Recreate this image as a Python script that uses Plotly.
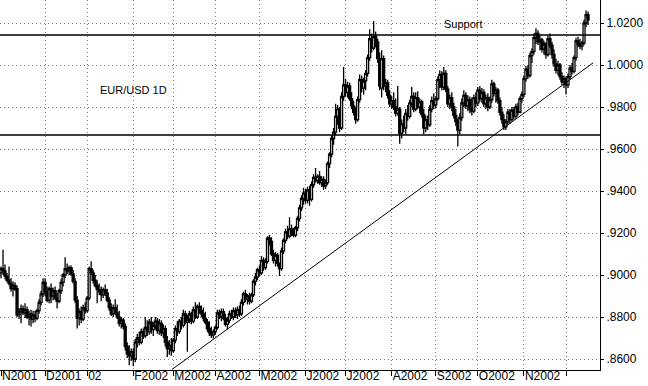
import plotly.graph_objects as go
import pandas as pd

# Daily EUR/USD candles, first trading day 2001-11-01 (weekdays only)
opens = [
 .9010,.9030,.9020,.8995,.8975,.8960,.8935,.8950,.8935,.8810,.8825,.8840,.8820,.8835,.8800,.8815,.8790,.8810,.8795,.8830,.8870,.8910,
 .8965,.8920,.8880,.8935,.8900,.8925,.8890,.8875,.8925,.8965,.9000,.9030,.9020,.9035,.9005,.8970,.8880,.8795,.8825,.8790,.8845,
 .8830,.8890,.9030,.9010,.8975,.8950,.8930,.8920,.8905,.8930,.8915,.8880,.8845,.8815,.8845,.8820,.8800,.8770,.8785,.8755,.8660,.8625,.8615,
 .8635,.8600,.8680,.8700,.8680,.8730,.8710,.8750,.8730,.8775,.8740,.8760,.8780,.8735,.8770,.8725,.8745,.8680,.8650,.8665,
 .8640,.8690,.8745,.8730,.8780,.8760,.8815,.8775,.8790,.8815,.8780,.8835,.8800,.8850,.8830,.8815,.8795,.8775,.8745,.8725,.8715,
 .8730,.8750,.8820,.8800,.8825,.8795,.8765,.8785,.8815,.8800,.8830,.8810,.8835,.8815,.8870,.8910,.8885,.8900,.8875,.8905,.8970,.8990,
 .9025,.9010,.9070,.9035,.9065,.9175,.9160,.9100,.9070,.9095,.9055,.9030,.9115,.9165,.9205,.9185,.9220,.9200,.9190,.9225,.9270,.9320,.9365,
 .9390,.9355,.9405,.9360,.9430,.9465,.9450,.9470,.9440,.9455,.9425,.9440,.9530,.9575,.9650,.9680,.9755,.9790,.9700,.9850,
 .9905,.9870,.9900,.9840,.9805,.9775,.9740,.9835,.9930,.9890,.9925,.9960,1.0035,1.0125,1.0080,1.0135,1.0110,1.0030,.9890,1.0030,.9900,.9915,.9855,
 .9815,.9830,.9800,.9770,.9790,.9675,.9720,.9700,.9770,.9755,.9820,.9850,.9790,.9845,.9800,.9825,.9765,.9700,.9740,.9715,.9790,.9830,
 .9810,.9840,.9930,.9955,.9895,.9960,.9885,.9815,.9845,.9800,.9760,.9730,.9690,.9750,.9820,.9855,.9805,.9835,.9790,.9780,.9845,
 .9820,.9880,.9840,.9870,.9815,.9845,.9800,.9835,.9910,.9865,.9880,.9830,.9775,.9740,.9705,.9730,.9775,.9740,.9785,.9755,.9800,.9775,.9840,
 .9860,.9935,.9980,.9950,1.0045,1.0065,1.0130,1.0150,1.0110,1.0120,1.0075,1.0100,1.0050,1.0125,1.0095,1.0050,1.0005,.9975,1.0000,.9945,.9920,
 .9935,.9905,.9945,.9985,.9970,1.0035,1.0115,1.0100,1.0090,1.0105,1.0200,1.0240,
]
highs = [
 .9040,.9120,.9050,.9010,.9040,.8985,.8970,.8965,.8950,.8840,.8860,.8855,.8865,.8850,.8830,.8835,.8830,.8830,.8840,.8885,.8925,.8985,
 .8985,.8945,.8945,.8960,.8940,.8945,.8915,.8935,.8980,.9010,.9085,.9055,.9045,.9045,.9025,.8985,.8900,.8840,.8850,.8860,.8870,
 .8900,.9040,.9065,.9025,.9000,.8975,.8960,.8945,.8940,.8955,.8935,.8895,.8865,.8860,.8885,.8860,.8830,.8800,.8795,.8770,.8680,.8665,.8650,
 .8650,.8695,.8720,.8730,.8745,.8745,.8800,.8785,.8790,.8800,.8775,.8800,.8795,.8790,.8785,.8765,.8760,.8710,.8690,.8700,
 .8700,.8760,.8780,.8790,.8800,.8835,.8830,.8810,.8830,.8825,.8850,.8870,.8860,.8870,.8855,.8845,.8825,.8790,.8780,.8755,.8740,
 .8760,.8835,.8835,.8840,.8840,.8815,.8800,.8830,.8835,.8845,.8845,.8850,.8855,.8885,.8920,.8930,.8910,.8915,.8915,.8980,.9010,.9035,
 .9045,.9090,.9085,.9080,.9185,.9190,.9180,.9120,.9110,.9105,.9060,.9130,.9175,.9220,.9235,.9275,.9240,.9225,.9235,.9280,.9335,.9380,.9415,
 .9410,.9420,.9425,.9445,.9480,.9510,.9480,.9495,.9470,.9470,.9455,.9540,.9585,.9665,.9700,.9815,.9810,.9800,.9870,.9990,
 .9935,.9920,.9915,.9870,.9830,.9800,.9850,.9955,.9950,.9940,.9975,1.0050,1.0170,1.0150,1.0210,1.0160,1.0125,1.0060,1.0070,1.0045,.9935,.9930,.9880,
 .9850,.9870,.9840,.9900,.9800,.9740,.9760,.9790,.9810,.9835,.9895,.9870,.9870,.9875,.9840,.9835,.9790,.9760,.9760,.9810,.9850,.9865,
 .9850,.9945,.9975,.9970,.9990,.9975,.9900,.9860,.9870,.9820,.9790,.9745,.9770,.9840,.9880,.9870,.9855,.9850,.9845,.9860,.9870,
 .9895,.9900,.9890,.9885,.9860,.9865,.9850,.9930,.9920,.9895,.9890,.9845,.9800,.9765,.9740,.9790,.9790,.9800,.9800,.9815,.9820,.9850,.9875,
 .9950,.9995,1.0000,1.0060,1.0080,1.0150,1.0175,1.0165,1.0140,1.0130,1.0115,1.0110,1.0140,1.0150,1.0110,1.0075,1.0030,1.0020,1.0010,.9965,.9950,
 .9945,.9960,1.0000,1.0010,1.0045,1.0130,1.0135,1.0125,1.0115,1.0215,1.0260,1.0255,
]
lows = [
 .8985,.9000,.8980,.8965,.8950,.8920,.8898,.8925,.8800,.8790,.8770,.8810,.8795,.8790,.8760,.8755,.8770,.8775,.8785,.8815,.8855,.8895,
 .8900,.8870,.8865,.8865,.8880,.8880,.8840,.8865,.8910,.8945,.8985,.9005,.9000,.8995,.8960,.8865,.8745,.8760,.8770,.8780,.8815,
 .8820,.8880,.9000,.8960,.8940,.8865,.8905,.8875,.8890,.8900,.8870,.8830,.8805,.8800,.8810,.8790,.8755,.8745,.8740,.8640,.8605,.8570,.8590,
 .8565,.8585,.8655,.8665,.8670,.8695,.8700,.8710,.8715,.8720,.8710,.8740,.8720,.8715,.8710,.8700,.8660,.8610,.8620,.8615,
 .8630,.8675,.8710,.8720,.8740,.8750,.8765,.8635,.8770,.8765,.8770,.8790,.8790,.8815,.8800,.8780,.8765,.8730,.8710,.8700,.8698,
 .8715,.8740,.8790,.8780,.8785,.8755,.8740,.8770,.8790,.8785,.8795,.8790,.8800,.8805,.8855,.8870,.8860,.8860,.8865,.8895,.8950,.8975,
 .8995,.9000,.9020,.9025,.9055,.9140,.9090,.9055,.9040,.9040,.8995,.9020,.9100,.9150,.9170,.9175,.9185,.9180,.9180,.9210,.9255,.9305,.9335,
 .9340,.9340,.9330,.9350,.9415,.9440,.9435,.9430,.9420,.9405,.9410,.9430,.9510,.9560,.9620,.9665,.9715,.9680,.9690,.9830,
 .9850,.9845,.9830,.9790,.9760,.9720,.9730,.9820,.9870,.9860,.9880,.9945,1.0020,1.0060,1.0070,1.0085,1.0010,.9880,.9845,.9880,.9870,.9840,.9800,
 .9790,.9785,.9755,.9760,.9625,.9650,.9680,.9670,.9735,.9745,.9800,.9775,.9780,.9790,.9770,.9750,.9670,.9680,.9690,.9705,.9775,.9790,
 .9795,.9830,.9890,.9880,.9880,.9870,.9800,.9790,.9780,.9745,.9710,.9612,.9670,.9735,.9800,.9790,.9780,.9770,.9760,.9770,.9800,
 .9805,.9825,.9820,.9800,.9790,.9780,.9790,.9820,.9850,.9820,.9815,.9760,.9720,.9690,.9690,.9715,.9720,.9730,.9740,.9745,.9760,.9770,.9820,
 .9845,.9920,.9935,.9940,1.0010,1.0050,1.0100,1.0095,1.0070,1.0060,1.0050,1.0030,1.0040,1.0080,1.0030,.9990,.9960,.9950,.9930,.9905,.9890,
 .9860,.9890,.9930,.9955,.9960,1.0020,1.0085,1.0075,1.0070,1.0095,1.0180,1.0190,
]
closes = [
 .9030,.9020,.8995,.8975,.8960,.8935,.8950,.8930,.8810,.8825,.8840,.8820,.8835,.8800,.8815,.8790,.8810,.8795,.8830,.8870,.8910,.8965,
 .8920,.8880,.8935,.8900,.8925,.8890,.8875,.8925,.8965,.9000,.9030,.9020,.9035,.9005,.8970,.8880,.8795,.8825,.8790,.8845,.8830,
 .8890,.9030,.9010,.8975,.8950,.8930,.8920,.8905,.8930,.8915,.8880,.8845,.8815,.8845,.8820,.8800,.8770,.8785,.8755,.8660,.8625,.8615,.8635,
 .8600,.8680,.8700,.8680,.8730,.8710,.8750,.8730,.8775,.8740,.8760,.8780,.8735,.8770,.8725,.8745,.8680,.8650,.8665,.8640,
 .8690,.8745,.8730,.8780,.8760,.8815,.8775,.8790,.8815,.8780,.8835,.8800,.8850,.8830,.8815,.8795,.8775,.8745,.8725,.8715,.8730,
 .8750,.8820,.8800,.8825,.8795,.8765,.8785,.8815,.8800,.8830,.8810,.8835,.8815,.8870,.8910,.8885,.8900,.8875,.8905,.8970,.8990,.9025,
 .9010,.9070,.9035,.9065,.9175,.9160,.9100,.9070,.9095,.9055,.9030,.9115,.9165,.9205,.9185,.9220,.9200,.9190,.9225,.9270,.9320,.9365,.9390,
 .9355,.9405,.9360,.9430,.9465,.9450,.9470,.9440,.9455,.9425,.9440,.9530,.9575,.9650,.9680,.9755,.9790,.9700,.9850,.9905,
 .9870,.9900,.9840,.9805,.9775,.9740,.9835,.9930,.9890,.9925,.9960,1.0035,1.0125,1.0080,1.0135,1.0110,1.0030,.9900,1.0030,.9900,.9915,.9855,.9815,
 .9830,.9800,.9770,.9790,.9675,.9720,.9700,.9770,.9755,.9820,.9850,.9790,.9845,.9800,.9825,.9765,.9700,.9740,.9715,.9790,.9830,.9810,
 .9840,.9930,.9955,.9895,.9960,.9885,.9815,.9845,.9800,.9760,.9730,.9690,.9750,.9820,.9855,.9805,.9835,.9790,.9780,.9845,.9820,
 .9880,.9840,.9870,.9815,.9845,.9800,.9835,.9910,.9865,.9880,.9830,.9775,.9740,.9705,.9730,.9775,.9740,.9785,.9755,.9800,.9775,.9840,.9860,
 .9935,.9980,.9950,1.0045,1.0065,1.0130,1.0150,1.0110,1.0120,1.0075,1.0100,1.0050,1.0125,1.0095,1.0050,1.0005,.9975,1.0000,.9945,.9920,.9935,
 .9905,.9945,.9985,.9970,1.0035,1.0115,1.0100,1.0090,1.0105,1.0200,1.0240,1.0215,
]

start_date = "2001-11-01"
month_labels = ["N2001", "D2001", "02", "F2002", "M2002", "A2002", "M2002",
                "J2002", "J2002", "A2002", "S2002", "O2002", "N2002", ""]
price_ticks = [0.86, 0.88, 0.90, 0.92, 0.94, 0.96, 0.98, 1.00, 1.02]
price_labels = [".8600", ".8800", ".9000", ".9200", ".9400", ".9600", ".9800", "1.0000", "1.0200"]

level_prices = [1.0143, 0.9667]          # horizontal lines
trend_days = [85.3, 295.5]               # trend line end points (trading-day index)
trend_prices = [0.8550, 1.0010]

dates = pd.bdate_range(start_date, periods=len(closes))
days = list(range(len(closes)))
month_pos = [i for i in days if i == 0 or dates[i].month != dates[i - 1].month]

fig = go.Figure()
fig.add_trace(go.Candlestick(
    x=days, open=opens, high=highs, low=lows, close=closes,
    increasing=dict(line=dict(color="black", width=1.3), fillcolor="white"),
    decreasing=dict(line=dict(color="black", width=1.3), fillcolor="black"),
    whiskerwidth=0, hoverinfo="skip"))
fig.add_trace(go.Scatter(x=trend_days, y=trend_prices, mode="lines",
                         line=dict(color="black", width=1), hoverinfo="skip"))
for lv in level_prices:
    fig.add_shape(type="line", xref="paper", x0=0, x1=1, yref="y", y0=lv, y1=lv,
                  line=dict(color="black", width=1.5))

fig.add_annotation(text="EUR/USD 1D", xref="paper", yref="paper", x=0.2217, y=0.757,
                   xanchor="center", yanchor="middle",
                   showarrow=False, font=dict(size=11, color="black"))
fig.add_annotation(text="Support", xref="paper", yref="paper", x=0.773, y=0.936,
                   xanchor="center", yanchor="middle",
                   showarrow=False, font=dict(size=11, color="black"))

grid = dict(showgrid=True, gridcolor="#808080", gridwidth=1, griddash="1px,3px", zeroline=False)
fig.update_xaxes(range=[-0.5, 298.97], tickvals=month_pos, ticktext=month_labels,
                 ticks="outside", ticklen=5, tickcolor="black", showline=True,
                 linecolor="black", linewidth=1, ticklabelposition="outside right",
                 ticklabelstandoff=-5, automargin=False, tickangle=0,
                 tickfont=dict(size=12), rangeslider=dict(visible=False), **grid)
fig.update_yaxes(side="right", range=[0.85476, 1.03095], tickvals=price_ticks,
                 ticktext=price_labels, ticks="outside", ticklen=3, tickcolor="black",
                 showline=True, linecolor="black", linewidth=1, automargin=False,
                 tickfont=dict(size=12), **grid)
fig.update_layout(width=648, height=386, margin=dict(l=0, r=48, t=0, b=16),
                  paper_bgcolor="white", plot_bgcolor="white", showlegend=False,
                  boxgap=0.0, boxgroupgap=0.0,
                  font=dict(family="Liberation Sans, Arial, sans-serif", size=12, color="black"))
fig.write_html("out.html", config={"displayModeBar": False},
               post_script="document.body.style.margin='0';document.body.style.overflow='hidden';")
